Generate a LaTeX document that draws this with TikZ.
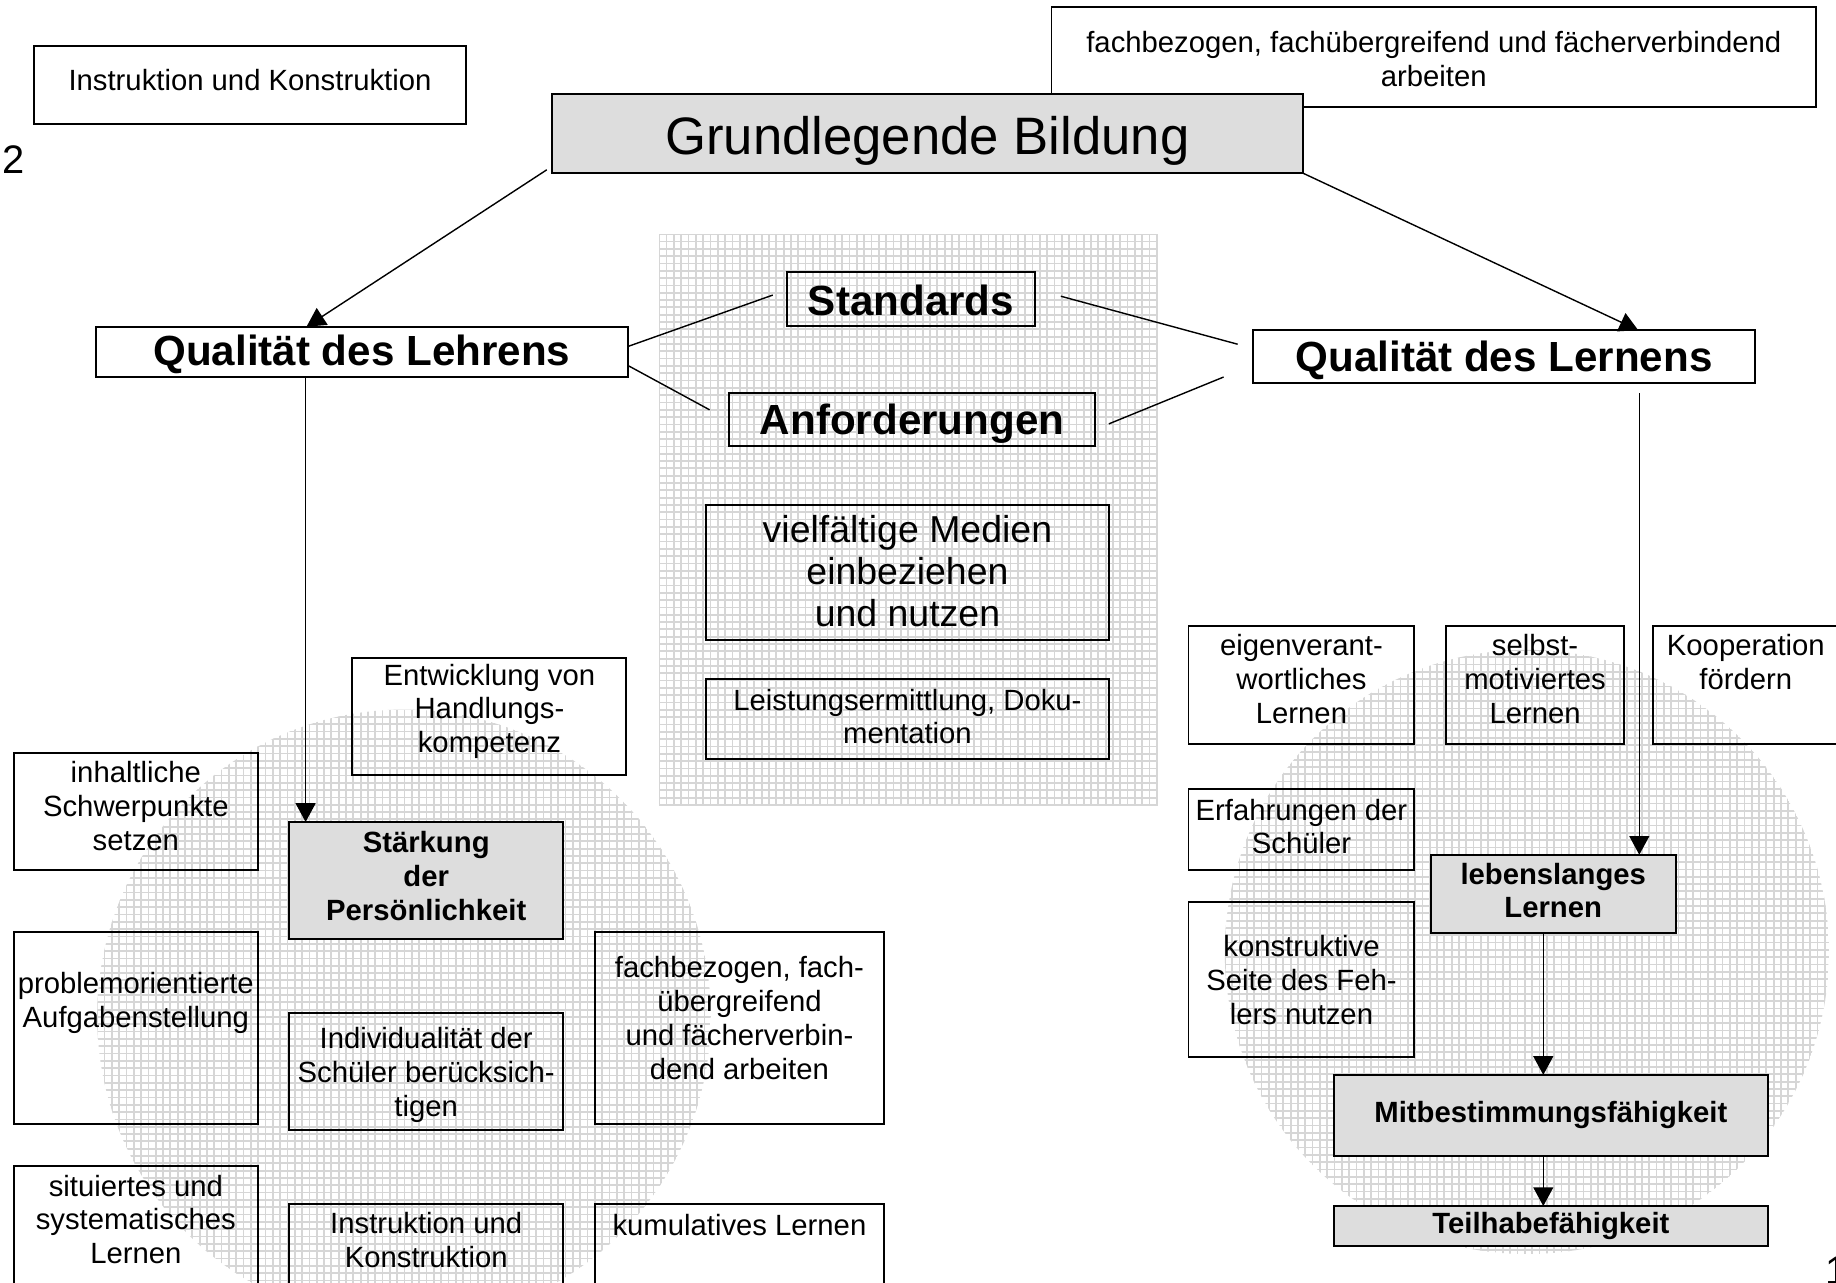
\documentclass[tikz,border=0pt]{standalone}
\usepackage{fontspec}
\setmainfont{Liberation Sans}
\usetikzlibrary{arrows.meta,calc}
\definecolor{boxgray}{RGB}{221,221,221}
\definecolor{gridgray}{RGB}{214,214,214}
\tikzset{
  boxst/.style={draw,line width=0.85pt,inner sep=0pt,outer sep=0pt},
  gfill/.style={fill=boxgray},
  txtst/.style={align=center,inner sep=0pt},
  ftsmall/.style={font=\fontsize{12.5}{14.4}\selectfont},
  ftsmallb/.style={font=\fontsize{12.5}{14.4}\selectfont\bfseries},
  ftmed/.style={font=\fontsize{16}{18}\selectfont},
  ftlarge/.style={font=\fontsize{18}{21}\selectfont\bfseries},
  ftgiant/.style={font=\fontsize{22.5}{26}\selectfont},
  gridline/.style={draw=gridgray,line width=0.75pt},
  conn/.style={line width=0.6pt},
  arrowline/.style={conn,-{Triangle[length=8pt,width=8.5pt]}},
}
% box: boxstyle, textstyle, name, x1, y1, x2, y2, text-y, text
\newcommand\bx[9]{%
  \node[boxst,#1,minimum width={(#6-#4)*0.5pt},minimum height={(#7-#5)*0.5pt}] (#3) at ({(#4+#6)/2},{(#5+#7)/2}) {};
  \node[txtst,#2] (#3-t) at ({(#4+#6)/2},#8) {#9};
}
\newcommand\hatch[4]{%
  \pgfmathtruncatemacro\nx{(#3-#1)/6.25}%
  \pgfmathtruncatemacro\ny{(#4-#2)/6.25}%
  \foreach \i in {0,...,\nx} \draw[gridline] ({#1+\i*6.25},#2) -- ({#1+\i*6.25},#4);
  \foreach \j in {0,...,\ny} \draw[gridline] (#1,{#2+\j*6.25}) -- (#3,{#2+\j*6.25});
}
\begin{document}
\begin{tikzpicture}[x=0.5pt,y=-0.5pt]
\useasboundingbox (0,0) rectangle (1568,1095);
\fill[white] (0,0) rectangle (1568,1095);

% hatched backgrounds
\begin{scope}
  \clip (563,200) rectangle (989,688);
  \hatch{563}{200}{989}{688}
\end{scope}
\begin{scope}
  \clip (345,868) circle (262);
  \hatch{83}{606}{607}{1130}
\end{scope}
\begin{scope}
  \clip (1304,813) circle (258);
  \hatch{1046}{555}{1562}{1071}
\end{scope}

% page numbers
\node[inner sep=0pt,font=\fontsize{17}{20}\selectfont] (pg2) at (12,136) {2};
\node[inner sep=0pt,anchor=north west,font=\fontsize{17}{20}\selectfont] (pg1) at (1559,1073) {1};

% boxes
\bx{}{ftsmall}{instr}{29}{39}{398}{106}{68}{Instruktion und Konstruktion}
\bx{fill=white}{ftsmall}{fach}{898}{6}{1551}{91}{50.5}{fachbezogen, fachübergreifend und fächerverbindend\\arbeiten}
\bx{gfill}{ftgiant}{grund}{471}{80}{1113}{148}{120}{Grundlegende Bildung}
\bx{}{ftlarge}{lehrens}{82}{279}{536}{322}{303}{Qualität des Lehrens}
\bx{}{ftlarge}{lernens}{1070}{282}{1499}{327}{308}{Qualität des Lernens}
\bx{}{ftlarge}{standards}{672}{232}{884}{278}{257}{Standards}
\bx{}{ftlarge}{anford}{623}{336}{935}{381}{362}{Anforderungen}
\bx{}{ftmed}{medien}{603}{431}{947}{547}{488}{vielfältige Medien\\einbeziehen\\und nutzen}
\bx{}{ftsmall}{leist}{603}{580}{947}{648}{612}{Leistungsermittlung, Doku-\\mentation}

\bx{}{ftsmall}{entw}{301}{562}{535}{662}{607.5}{Entwicklung von\\Handlungs-\\kompetenz}
\bx{}{ftsmall}{inhalt}{12}{643}{220}{743}{688.5}{inhaltliche\\Schwerpunkte\\setzen}
\bx{gfill}{ftsmallb}{staerk}{247}{702}{481}{802}{748}{Stärkung\\der\\Persönlichkeit}
\bx{}{ftsmall}{problem}{12}{796}{220}{960}{856.5}{problemorientierte\\Aufgabenstellung}
\bx{}{ftsmall}{indiv}{247}{865}{481}{965}{918}{Individualität der\\Schüler berücksich-\\tigen}
\bx{}{ftsmall}{fachb}{508}{796}{755}{960}{869.5}{fachbezogen, fach-\\übergreifend\\und fächerverbin-\\dend arbeiten}
\bx{}{ftsmall}{situ}{12}{996}{220}{1110}{1041.5}{situiertes und\\systematisches\\Lernen}
\bx{}{ftsmall}{instrb}{247}{1028}{481}{1110}{1059}{Instruktion und\\Konstruktion}
\bx{}{ftsmall}{kumul}{508}{1028}{755}{1110}{1046}{kumulatives Lernen}

\bx{}{ftsmall}{eigen}{1015}{535}{1208}{635}{580}{eigenverant-\\wortliches\\Lernen}
\bx{}{ftsmall}{selbst}{1235}{535}{1387}{635}{580}{selbst-\\motiviertes\\Lernen}
\bx{}{ftsmall}{koop}{1412}{535}{1570}{635}{565.5}{Kooperation\\fördern}
\bx{}{ftsmall}{erfahr}{1015}{674}{1208}{743}{706}{Erfahrungen der\\Schüler}
\bx{}{ftsmall}{konstr}{1015}{770}{1208}{903}{837}{konstruktive\\Seite des Feh-\\lers nutzen}
\bx{gfill}{ftsmallb}{lebens}{1222}{730}{1431}{797}{760.5}{lebenslanges\\Lernen}
\bx{gfill}{ftsmallb}{mitbest}{1139}{918}{1510}{987}{952}{Mitbestimmungsfähigkeit}
\bx{gfill}{ftsmallb}{teilhabe}{1139}{1030}{1510}{1064}{1047}{Teilhabefähigkeit}

% connectors
\coordinate (lx) at (261,0);
\coordinate (rx) at (1400,0);
\coordinate (mx) at (1318,0);
\draw[arrowline] ($(grund.south west)+(-4,-3)$) -- ($(lehrens.north west)!0.396!(lehrens.north east)$);
\draw[arrowline] (grund.south east) -- ($(lernens.north west)!0.767!(lernens.north east)$);
\draw[arrowline] (lehrens.south -| lx) -- (staerk.north -| lx);
\draw[arrowline,shorten <=4.5pt] (lernens.south -| rx) -- (lebens.north -| rx);
\draw[arrowline] (lebens.south -| mx) -- (mitbest.north -| mx);
\draw[arrowline] (mitbest.south -| mx) -- (teilhabe.north -| mx);
\draw[conn] ($(lehrens.east)+(0,-4.5)$) -- ($(standards.west)+(-12,-3)$);
\draw[conn] ($(lehrens.east)+(0,11.5)$) -- ($(anford.west)+(-17,-8.5)$);
\draw[conn] ($(standards.east)+(22,-2)$) -- ($(lernens.west)+(-13,-10.5)$);
\draw[conn] ($(anford.east)+(12,3.5)$) -- ($(lernens.west)+(-25,17.5)$);
\end{tikzpicture}
\end{document}
